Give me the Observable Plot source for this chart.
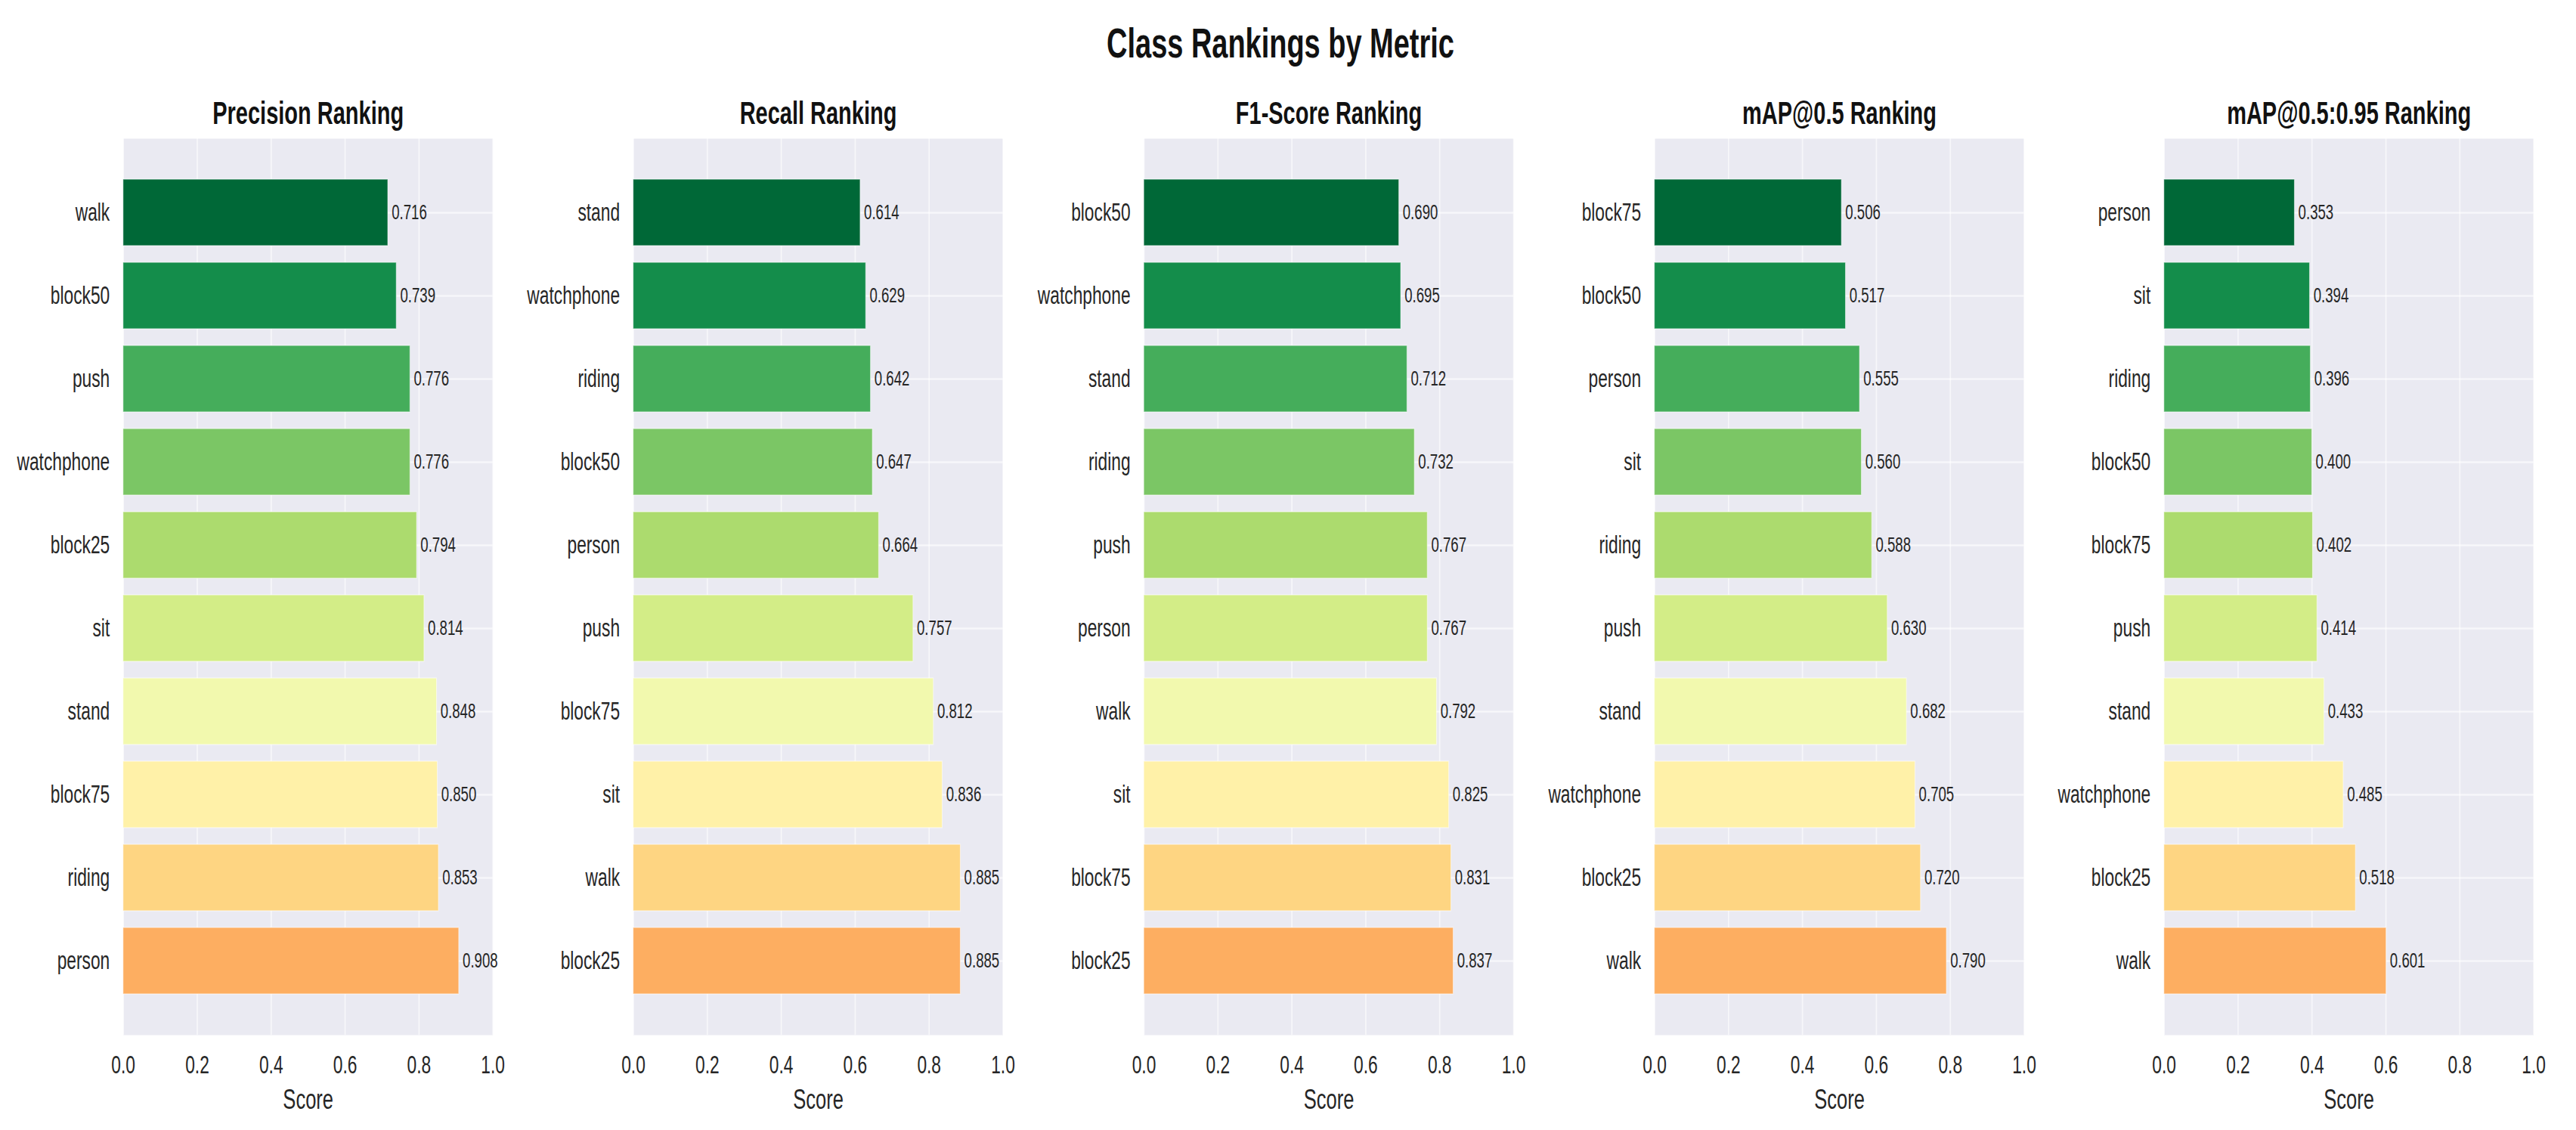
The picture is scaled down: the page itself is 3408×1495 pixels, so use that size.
<!DOCTYPE html>
<html>
<head>
<meta charset="utf-8">
<script src="https://cdn.jsdelivr.net/npm/d3@7"></script>
<script src="https://cdn.jsdelivr.net/npm/@observablehq/plot@0.6"></script>
<style>
html, body { margin: 0; padding: 0; background: #fff; overflow: hidden; width: 3408px; height: 1495px; }
#root { position: absolute; left: 0; top: 0; height: 1495px; transform-origin: 0 0; font-family: "Liberation Sans", Arial, sans-serif; color: #262626; }
#title { position: absolute; top: 30px; font-size: 55px; line-height: 55px; font-weight: bold; text-align: center; white-space: nowrap; color: #111; }
.panel { position: absolute; top: 100px; }
</style>
</head>
<body>
<div id="root"><div id="title">Class Rankings by Metric</div></div>
<script>
// ---- data ----
const panelTitles = ["Precision Ranking", "Recall Ranking", "F1-Score Ranking", "mAP@0.5 Ranking", "mAP@0.5:0.95 Ranking"];

const precisionClasses = ["walk", "block50", "push", "watchphone", "block25", "sit", "stand", "block75", "riding", "person"];
const precisionScores  = [0.716, 0.739, 0.776, 0.776, 0.794, 0.814, 0.848, 0.850, 0.853, 0.908];

const recallClasses = ["stand", "watchphone", "riding", "block50", "person", "push", "block75", "sit", "walk", "block25"];
const recallScores  = [0.614, 0.629, 0.642, 0.647, 0.664, 0.757, 0.812, 0.836, 0.885, 0.885];

const f1Classes = ["block50", "watchphone", "stand", "riding", "push", "person", "walk", "sit", "block75", "block25"];
const f1Scores  = [0.690, 0.695, 0.712, 0.732, 0.767, 0.767, 0.792, 0.825, 0.831, 0.837];

const map50Classes = ["block75", "block50", "person", "sit", "riding", "push", "stand", "watchphone", "block25", "walk"];
const map50Scores  = [0.506, 0.517, 0.555, 0.560, 0.588, 0.630, 0.682, 0.705, 0.720, 0.790];

const map5095Classes = ["person", "sit", "riding", "block50", "block75", "push", "stand", "watchphone", "block25", "walk"];
const map5095Scores  = [0.353, 0.394, 0.396, 0.400, 0.402, 0.414, 0.433, 0.485, 0.518, 0.601];

const xTicks = [0, 0.2, 0.4, 0.6, 0.8, 1.0];
const xLabel = "Score";

// ---- style ----
const palette = ["#006837", "#148d4b", "#45ad5b", "#7bc665", "#acdb6e", "#d3ed87", "#f2f9ae", "#fff1a8", "#fed582", "#fdae61"];
const R = 0.69;                       // horizontal condensation of the reference
const W = 3408 / R;
const panelLefts = [163, 838, 1513, 2189, 2863];  // plot-area left edges (target px)
const plotW = 489 / R;
const mL = 240, mR = 50;

const root = document.getElementById("root");
root.style.width = W + "px";
root.style.transform = `scaleX(${R})`;
const titleEl = document.getElementById("title");
titleEl.style.left = "0px";
titleEl.style.width = (2 * 1694 / R) + "px";

const panels = [
  [precisionClasses, precisionScores],
  [recallClasses, recallScores],
  [f1Classes, f1Scores],
  [map50Classes, map50Scores],
  [map5095Classes, map5095Scores]
];

panels.forEach(([classes, scores], i) => {
  const rows = classes.map((cls, k) => ({cls, score: scores[k], color: palette[k]}));
  const width = mL + plotW + mR;
  const chart = Plot.plot({
    width,
    height: 1395,
    marginLeft: mL,
    marginRight: mR,
    marginTop: 83,
    marginBottom: 126,
    style: "font-family: 'Liberation Sans', Arial, sans-serif; background: transparent; overflow: visible; max-width: none; color: #262626;",
    x: {domain: [0, 1]},
    y: {domain: classes, paddingInner: 0.2, paddingOuter: 0.49},
    color: {type: "identity"},
    marks: [
      Plot.frame({fill: "#eaeaf2", stroke: "none"}),
      Plot.gridX(xTicks, {stroke: "white", strokeOpacity: 0.6, strokeWidth: 2.5}),
      Plot.gridY({stroke: "white", strokeOpacity: 0.6, strokeWidth: 2.5}),
      Plot.barX(rows, {x: "score", y: "cls", fill: "color", stroke: "white", strokeOpacity: 0.5, strokeWidth: 1.5}),
      Plot.text(rows, {x: "score", y: "cls", text: d => d.score.toFixed(3), textAnchor: "start", dx: 7, fontSize: 27, fill: "#262626"}),
      Plot.axisX(xTicks, {tickSize: 0, tickPadding: 27, fontSize: 33, tickFormat: d3.format(".1f"), label: null}),
      Plot.axisY({tickSize: 0, tickPadding: 26, fontSize: 33, label: null}),
      Plot.text([panelTitles[i]], {frameAnchor: "top", lineAnchor: "middle", dy: -33, fontSize: 42, fontWeight: "bold", fill: "#111"}),
      Plot.text([xLabel], {frameAnchor: "bottom", lineAnchor: "middle", dy: 86, fontSize: 37, fill: "#262626"})
    ]
  });
  const div = document.createElement("div");
  div.className = "panel";
  div.style.left = (panelLefts[i] / R - mL) + "px";
  div.style.width = width + "px";
  div.appendChild(chart);
  root.appendChild(div);
});
</script>
</body>
</html>
